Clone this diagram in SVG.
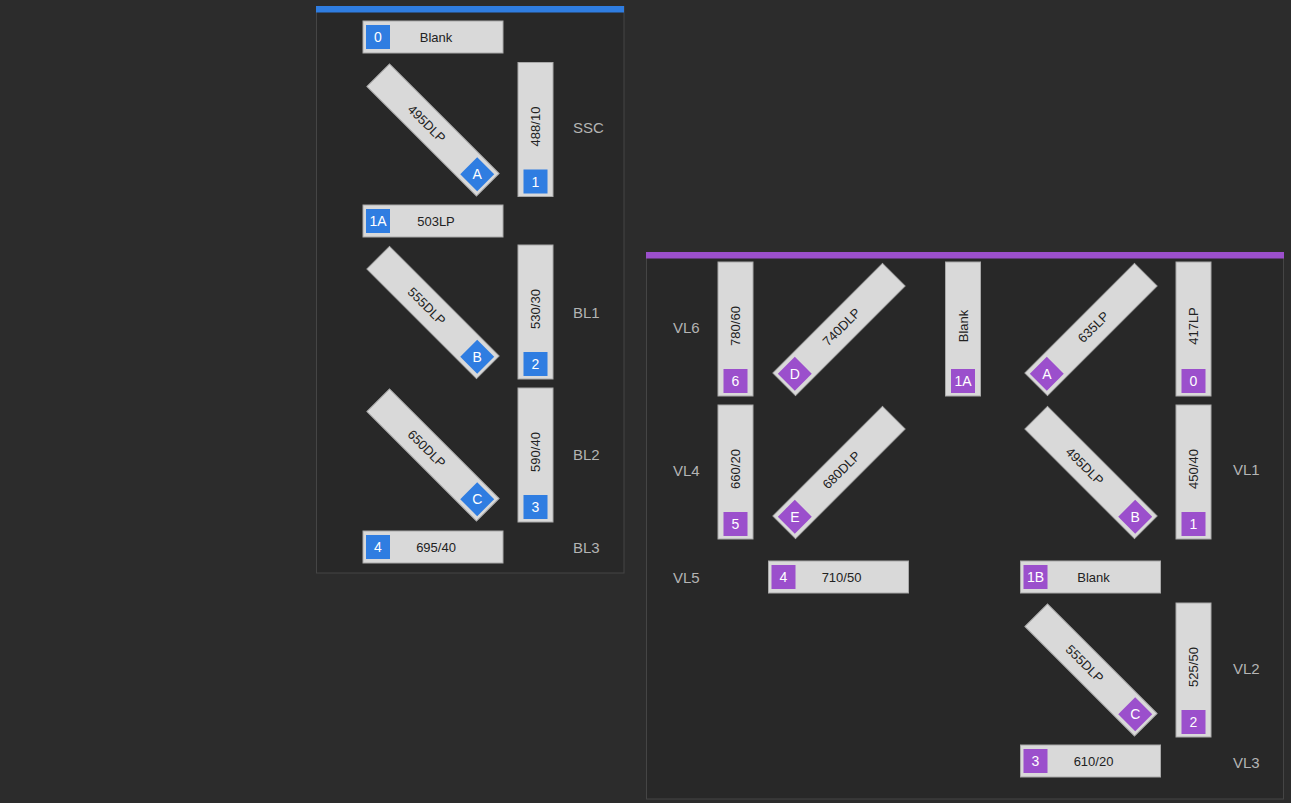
<svg xmlns="http://www.w3.org/2000/svg" width="1291" height="803" viewBox="0 0 1291 803">
<style>
.bg{fill:#2c2c2c}
.panel{fill:#282828;stroke:#454545;stroke-width:1}
.f{fill:#d9d9d9;stroke:#a9a9a9;stroke-width:1}
.bb{fill:#2f7de1}
.pb{fill:#9b4fcc}
.t{font-family:"Liberation Sans",Arial,sans-serif;font-size:13px;fill:#222;text-anchor:middle;dominant-baseline:central}
.bt{font-family:"Liberation Sans",Arial,sans-serif;font-size:14px;fill:#fff;text-anchor:middle;dominant-baseline:central}
.lb{font-family:"Liberation Sans",Arial,sans-serif;font-size:15px;fill:#b4b4b4;dominant-baseline:central}
</style>
<rect class="bg" x="0" y="0" width="1291" height="803"/>

<g id="panel-blue">
<rect class="panel" x="316.5" y="6.5" width="307.5" height="566.5"/>
<rect class="bb" x="316" y="6" width="308" height="6.5"/>
</g>
<g id="panel-purple">
<rect class="panel" x="646.5" y="252.5" width="637" height="546.5"/>
<rect class="pb" x="646" y="252" width="638" height="6.5"/>
</g>

<g id="connectors"/>

<!-- Blue panel -->
<g id="b-h0" transform="translate(433,37)">
<rect class="f" x="-70" y="-16" width="140" height="32"/>
<rect class="bb" x="-67" y="-12" width="24" height="24"/>
<text class="bt" x="-55">0</text>
<text class="t" x="3">Blank</text>
</g>
<g id="b-dA" transform="translate(433,130) rotate(45)">
<rect class="f" x="-77.5" y="-16" width="155" height="32"/>
<rect class="bb" x="50.5" y="-12" width="24" height="24"/>
<text class="bt" transform="translate(62.5,0) rotate(-45)">A</text>
<text class="t" x="-9">495DLP</text>
</g>
<g id="b-v1" transform="translate(535.5,129.5) rotate(-90)">
<rect class="f" x="-67" y="-17.5" width="134" height="35"/>
<rect class="bb" x="-64" y="-12" width="24" height="24"/>
<text class="bt" transform="translate(-52,0) rotate(90)">1</text>
<text class="t" x="3">488/10</text>
</g>
<g id="b-h1A" transform="translate(433,221)">
<rect class="f" x="-70" y="-16" width="140" height="32"/>
<rect class="bb" x="-67" y="-12" width="24" height="24"/>
<text class="bt" x="-55">1A</text>
<text class="t" x="3">503LP</text>
</g>
<g id="b-dB" transform="translate(433,312.5) rotate(45)">
<rect class="f" x="-77.5" y="-16" width="155" height="32"/>
<rect class="bb" x="50.5" y="-12" width="24" height="24"/>
<text class="bt" transform="translate(62.5,0) rotate(-45)">B</text>
<text class="t" x="-9">555DLP</text>
</g>
<g id="b-v2" transform="translate(535.5,312) rotate(-90)">
<rect class="f" x="-67" y="-17.5" width="134" height="35"/>
<rect class="bb" x="-64" y="-12" width="24" height="24"/>
<text class="bt" transform="translate(-52,0) rotate(90)">2</text>
<text class="t" x="3">530/30</text>
</g>
<g id="b-dC" transform="translate(433,455) rotate(45)">
<rect class="f" x="-77.5" y="-16" width="155" height="32"/>
<rect class="bb" x="50.5" y="-12" width="24" height="24"/>
<text class="bt" transform="translate(62.5,0) rotate(-45)">C</text>
<text class="t" x="-9">650DLP</text>
</g>
<g id="b-v3" transform="translate(535.5,455) rotate(-90)">
<rect class="f" x="-67" y="-17.5" width="134" height="35"/>
<rect class="bb" x="-64" y="-12" width="24" height="24"/>
<text class="bt" transform="translate(-52,0) rotate(90)">3</text>
<text class="t" x="3">590/40</text>
</g>
<g id="b-h4" transform="translate(433,547)">
<rect class="f" x="-70" y="-16" width="140" height="32"/>
<rect class="bb" x="-67" y="-12" width="24" height="24"/>
<text class="bt" x="-55">4</text>
<text class="t" x="3">695/40</text>
</g>
<g id="b-labels">
<text class="lb" x="573" y="127">SSC</text>
<text class="lb" x="573" y="312">BL1</text>
<text class="lb" x="573" y="454">BL2</text>
<text class="lb" x="573" y="547">BL3</text>
</g>

<!-- Purple panel -->
<g id="p-v6" transform="translate(735.5,329) rotate(-90)">
<rect class="f" x="-67" y="-17.5" width="134" height="35"/>
<rect class="pb" x="-64" y="-12" width="24" height="24"/>
<text class="bt" transform="translate(-52,0) rotate(90)">6</text>
<text class="t" x="3">780/60</text>
</g>
<g id="p-dD" transform="translate(839,329.5) rotate(-45)">
<rect class="f" x="-77.5" y="-16" width="155" height="32"/>
<rect class="pb" x="-74.5" y="-12" width="24" height="24"/>
<text class="bt" transform="translate(-62.5,0) rotate(45)">D</text>
<text class="t" x="3.5">740DLP</text>
</g>
<g id="p-v1A" transform="translate(963,329) rotate(-90)">
<rect class="f" x="-67" y="-17.5" width="134" height="35"/>
<rect class="pb" x="-64" y="-12" width="24" height="24"/>
<text class="bt" transform="translate(-52,0) rotate(90)">1A</text>
<text class="t" x="3">Blank</text>
</g>
<g id="p-dA" transform="translate(1091,329.5) rotate(-45)">
<rect class="f" x="-77.5" y="-16" width="155" height="32"/>
<rect class="pb" x="-74.5" y="-12" width="24" height="24"/>
<text class="bt" transform="translate(-62.5,0) rotate(45)">A</text>
<text class="t" x="3.5">635LP</text>
</g>
<g id="p-v0" transform="translate(1193.5,329) rotate(-90)">
<rect class="f" x="-67" y="-17.5" width="134" height="35"/>
<rect class="pb" x="-64" y="-12" width="24" height="24"/>
<text class="bt" transform="translate(-52,0) rotate(90)">0</text>
<text class="t" x="3">417LP</text>
</g>
<g id="p-v5" transform="translate(735.5,472) rotate(-90)">
<rect class="f" x="-67" y="-17.5" width="134" height="35"/>
<rect class="pb" x="-64" y="-12" width="24" height="24"/>
<text class="bt" transform="translate(-52,0) rotate(90)">5</text>
<text class="t" x="3">660/20</text>
</g>
<g id="p-dE" transform="translate(839,472.5) rotate(-45)">
<rect class="f" x="-77.5" y="-16" width="155" height="32"/>
<rect class="pb" x="-74.5" y="-12" width="24" height="24"/>
<text class="bt" transform="translate(-62.5,0) rotate(45)">E</text>
<text class="t" x="3.5">680DLP</text>
</g>
<g id="p-dB" transform="translate(1091,472.5) rotate(45)">
<rect class="f" x="-77.5" y="-16" width="155" height="32"/>
<rect class="pb" x="50.5" y="-12" width="24" height="24"/>
<text class="bt" transform="translate(62.5,0) rotate(-45)">B</text>
<text class="t" x="-9">495DLP</text>
</g>
<g id="p-v1" transform="translate(1193.5,472) rotate(-90)">
<rect class="f" x="-67" y="-17.5" width="134" height="35"/>
<rect class="pb" x="-64" y="-12" width="24" height="24"/>
<text class="bt" transform="translate(-52,0) rotate(90)">1</text>
<text class="t" x="3">450/40</text>
</g>
<g id="p-h4" transform="translate(838.5,577)">
<rect class="f" x="-70" y="-16" width="140" height="32"/>
<rect class="pb" x="-67" y="-12" width="24" height="24"/>
<text class="bt" x="-55">4</text>
<text class="t" x="3">710/50</text>
</g>
<g id="p-h1B" transform="translate(1090.5,577)">
<rect class="f" x="-70" y="-16" width="140" height="32"/>
<rect class="pb" x="-67" y="-12" width="24" height="24"/>
<text class="bt" x="-55">1B</text>
<text class="t" x="3">Blank</text>
</g>
<g id="p-dC" transform="translate(1091,670) rotate(45)">
<rect class="f" x="-77.5" y="-16" width="155" height="32"/>
<rect class="pb" x="50.5" y="-12" width="24" height="24"/>
<text class="bt" transform="translate(62.5,0) rotate(-45)">C</text>
<text class="t" x="-9">555DLP</text>
</g>
<g id="p-v2" transform="translate(1193.5,670) rotate(-90)">
<rect class="f" x="-67" y="-17.5" width="134" height="35"/>
<rect class="pb" x="-64" y="-12" width="24" height="24"/>
<text class="bt" transform="translate(-52,0) rotate(90)">2</text>
<text class="t" x="3">525/50</text>
</g>
<g id="p-h3" transform="translate(1090.5,761)">
<rect class="f" x="-70" y="-16" width="140" height="32"/>
<rect class="pb" x="-67" y="-12" width="24" height="24"/>
<text class="bt" x="-55">3</text>
<text class="t" x="3">610/20</text>
</g>
<g id="p-labels">
<text class="lb" x="673" y="327">VL6</text>
<text class="lb" x="673" y="470">VL4</text>
<text class="lb" x="673" y="577">VL5</text>
<text class="lb" x="1233" y="469">VL1</text>
<text class="lb" x="1233" y="668">VL2</text>
<text class="lb" x="1233" y="762">VL3</text>
</g>
</svg>
